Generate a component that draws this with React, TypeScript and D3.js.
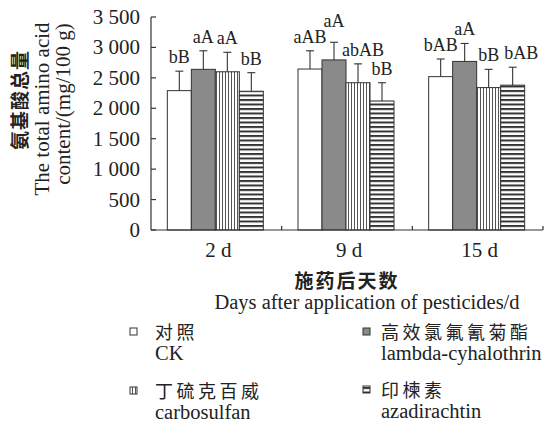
import { useMemo } from 'react';
import * as d3 from 'd3';

const groups = ['2 d', '9 d', '15 d'];
const seriesKeys = ['ck', 'lambda', 'carbosulfan', 'azadirachtin'];
const seriesZh = ['对照', '高效氯氟氰菊酯', '丁硫克百威', '印楝素'];
const seriesEn = ['CK', 'lambda-cyhalothrin', 'carbosulfan', 'azadirachtin'];

// mean total amino acid content, mg/100 g, per day group
const ckValues = [2290, 2645, 2520];
const lambdaValues = [2640, 2795, 2770];
const carbosulfanValues = [2600, 2420, 2340];
const azadirachtinValues = [2280, 2120, 2380];

// standard deviations
const ckSd = [320, 300, 290];
const lambdaSd = [305, 290, 295];
const carbosulfanSd = [320, 310, 300];
const azadirachtinSd = [305, 300, 295];

// significance letters
const ckSig = ['bB', 'aAB', 'bAB'];
const lambdaSig = ['aA', 'aA', 'aA'];
const carbosulfanSig = ['aA', 'abAB', 'bB'];
const azadirachtinSig = ['bB', 'bB', 'bAB'];

const yTicks = [0, 500, 1000, 1500, 2000, 2500, 3000, 3500];

const values = [ckValues, lambdaValues, carbosulfanValues, azadirachtinValues];
const sds = [ckSd, lambdaSd, carbosulfanSd, azadirachtinSd];
const sigs = [ckSig, lambdaSig, carbosulfanSig, azadirachtinSig];
const fills = ['#fff', '#8a8a8a', 'url(#vlines)', 'url(#hlines)'];

const SERIF = '"Liberation Serif", "Times New Roman", serif';
const CJK = '"Noto Sans CJK SC", "Noto Sans", sans-serif';
const INK = '#222';
const LABEL_SIZE = 18;

const charW: Record<string, number> = { a: 0.444, b: 0.5, A: 0.722, B: 0.667 };
const textWidth = (s: string) =>
  s.split('').reduce((acc, c) => acc + (charW[c] ?? 0.5), 0) * LABEL_SIZE;

const fmt = d3.formatLocale({
  decimal: '.',
  thousands: ' ',
  grouping: [3],
  currency: ['', ''],
}).format(',');

type Label = {
  text: string;
  barX: number;
  errTop: number;
  barTop: number;
  baseline: number;
  left: number;
  w: number;
};

// nudge letters so neighbours in a group do not collide
function layoutLabels(items: Label[]) {
  for (let i = 1; i < items.length; i++) {
    const cur = items[i];
    const prev = items[i - 1];
    const spanTop = cur.baseline - LABEL_SIZE * 0.7;
    if (cur.baseline > prev.errTop - 2 && spanTop < prev.barTop) {
      cur.left = Math.max(cur.left, prev.barX + 8);
    }
    const vOverlap = Math.abs(cur.baseline - prev.baseline) < LABEL_SIZE * 0.75;
    const hOverlap = cur.left < prev.left + prev.w + 2;
    if (vOverlap && hOverlap) {
      if (cur.baseline < prev.baseline - 5) {
        cur.baseline = prev.baseline - LABEL_SIZE * 0.85;
      } else {
        cur.left = prev.left + prev.w + 5;
      }
    }
  }
  return items;
}

export default function App() {
  const yScale = useMemo(
    () => d3.scaleLinear().domain([0, 3500]).range([230, 17]),
    []
  );
  const xScale = useMemo(
    () => d3.scaleBand().domain(groups).range([151, 543]),
    []
  );
  const innerScale = useMemo(
    () => d3.scaleBand().domain(seriesKeys).range([0, 96]),
    []
  );
  const groupOffset = (xScale.bandwidth() - 96) / 2 - 1;

  const bars = groups.flatMap((g, gi) =>
    seriesKeys.map((k, si) => {
      const x = (xScale(g) ?? 0) + groupOffset + (innerScale(k) ?? 0);
      const w = innerScale.bandwidth();
      const v = values[si][gi];
      const top = yScale(v + sds[si][gi]);
      return { g, gi, si, x, w, v, y: yScale(v), top };
    })
  );

  const labels = groups.flatMap((g, gi) => {
    const items: Label[] = bars
      .filter((b) => b.gi === gi)
      .map((b) => {
        const text = sigs[b.si][gi];
        const w = textWidth(text);
        const cx = b.x + b.w / 2;
        return {
          text,
          barX: cx,
          errTop: b.top,
          barTop: b.y,
          baseline: b.top - 8,
          left: cx - w / 2,
          w,
        };
      });
    return layoutLabels(items);
  });

  const legend = [
    { x: 130, tx: 155, y: 327 },
    { x: 363, tx: 381, y: 327 },
    { x: 130, tx: 155, y: 386 },
    { x: 363, tx: 381, y: 385 },
  ];

  const boundaries = [...groups.map((g) => xScale(g) ?? 0), 543];

  return (
    <svg
      width={545}
      height={423}
      style={{ position: 'absolute', left: 0, top: 0, background: '#fff' }}
    >
      <defs>
        <pattern id="vlines" width="3" height="3" patternUnits="userSpaceOnUse">
          <rect width="3" height="3" fill="#fff" />
          <line x1="0.5" y1="0" x2="0.5" y2="3" stroke="#555" strokeWidth="1" />
        </pattern>
        <pattern id="hlines" width="4.5" height="4.5" patternUnits="userSpaceOnUse">
          <rect width="4.5" height="4.5" fill="#fff" />
          <rect width="4.5" height="2" fill="#333" />
        </pattern>
      </defs>

      {/* bars */}
      {bars.map((b, i) => (
        <rect
          key={i}
          x={b.x}
          y={b.y}
          width={b.w}
          height={yScale(0) - b.y}
          fill={fills[b.si]}
          stroke="#333"
          strokeWidth={1}
        />
      ))}

      {/* error bars */}
      {bars.map((b, i) => {
        const cx = b.x + b.w / 2;
        return (
          <g key={i} stroke="#333" strokeWidth={1.1}>
            <line x1={cx} x2={cx} y1={b.y} y2={b.top} />
            <line x1={cx - 4} x2={cx + 4} y1={b.top} y2={b.top} />
          </g>
        );
      })}

      {/* significance letters */}
      {labels.map((l, i) => (
        <text
          key={i}
          x={l.left}
          y={l.baseline}
          fontFamily={SERIF}
          fontSize={LABEL_SIZE}
          fill={INK}
        >
          {l.text}
        </text>
      ))}

      {/* y axis */}
      <line x1={151} x2={151} y1={yScale(3500)} y2={yScale(0)} stroke="#333" strokeWidth={1.2} />
      {yTicks.map((t) => (
        <g key={t}>
          <line x1={151} x2={156} y1={yScale(t)} y2={yScale(t)} stroke="#333" strokeWidth={1.2} />
          <text
            x={140}
            y={yScale(t) + 7}
            textAnchor="end"
            fontFamily={SERIF}
            fontSize={21}
            fill={INK}
          >
            {fmt(t)}
          </text>
        </g>
      ))}

      {/* x axis */}
      <line x1={151} x2={543} y1={yScale(0)} y2={yScale(0)} stroke="#333" strokeWidth={1.2} />
      {boundaries.slice(1).map((bx, i) => (
        <line key={i} x1={bx} x2={bx} y1={yScale(0)} y2={yScale(0) - 4} stroke="#333" strokeWidth={1.2} />
      ))}
      {groups.map((g) => (
        <text
          key={g}
          x={(xScale(g) ?? 0) + xScale.bandwidth() / 2 + 2}
          y={257}
          textAnchor="middle"
          fontFamily={SERIF}
          fontSize={21}
          fill={INK}
        >
          {g}
        </text>
      ))}

      {/* x title */}
      <text x={347} y={288} textAnchor="middle" fontFamily={CJK} fontWeight={700} fontSize={19} letterSpacing={2} fill={INK}>
        施药后天数
      </text>
      <text x={367} y={309} textAnchor="middle" fontFamily={SERIF} fontSize={20.5} fill={INK}>
        Days after application of pesticides/d
      </text>

      {/* y title */}
      <text
        transform="translate(27,100) rotate(-90)"
        textAnchor="middle"
        fontFamily={CJK}
        fontWeight={700}
        fontSize={19}
        letterSpacing={1}
        fill={INK}
      >
        氨基酸总量
      </text>
      <text transform="translate(49,109) rotate(-90)" textAnchor="middle" fontFamily={SERIF} fontSize={21} fill={INK}>
        The total amino acid
      </text>
      <text transform="translate(70,104) rotate(-90)" textAnchor="middle" fontFamily={SERIF} fontSize={21} fill={INK}>
        content/(mg/100 g)
      </text>

      {/* legend */}
      {legend.map((p, i) => (
        <g key={i}>
          <rect x={p.x} y={p.y + 1} width={7} height={7} fill={fills[i]} stroke="#333" strokeWidth={1} />
          <text x={p.tx} y={p.y + 12} fontFamily={CJK} fontSize={18} letterSpacing={3.5} fill={INK}>
            {seriesZh[i]}
          </text>
          <text x={p.tx} y={p.y + 33} fontFamily={SERIF} fontSize={20.5} fill={INK}>
            {seriesEn[i]}
          </text>
        </g>
      ))}
    </svg>
  );
}
